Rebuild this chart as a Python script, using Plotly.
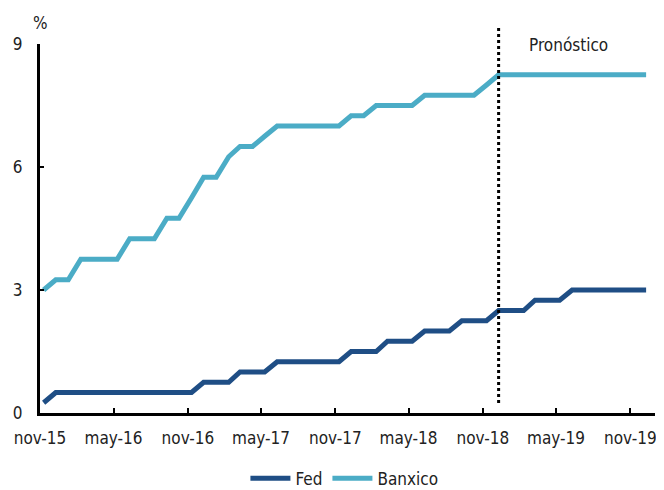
import plotly.graph_objects as go
import pandas as pd

# Monthly observations, nov-15 .. dec-19
months = pd.date_range("2015-11-01", "2019-12-01", freq="MS") + pd.Timedelta(days=9)
fed = [0.25] + [0.5]*12 + [0.75]*3 + [1.0]*3 + [1.25]*6 + [1.5]*3 + [1.75]*3 + [2.0]*3 + [2.25]*3 + [2.5]*3 + [2.75]*3 + [3.0]*7
banxico = ([3.0, 3.25, 3.25] + [3.75]*4 + [4.25]*3 + [4.75]*2 + [5.25, 5.75, 5.75, 6.25, 6.5, 6.5, 6.75]
           + [7.0]*6 + [7.25]*2 + [7.5]*4 + [7.75]*5 + [8.0] + [8.25]*13)

tick_dates = ["2015-11-01", "2016-05-01", "2016-11-01", "2017-05-01", "2017-11-01",
              "2018-05-01", "2018-11-01", "2019-05-01", "2019-11-01"]
tick_labels = ["nov-15", "may-16", "nov-16", "may-17", "nov-17",
               "may-18", "nov-18", "may-19", "nov-19"]
y_ticks = [0, 3, 6, 9]
forecast_start = "2018-12-10"

FONT = "DejaVu Sans Condensed, Liberation Sans Narrow, Arial Narrow, sans-serif"

fig = go.Figure()
fig.add_trace(go.Scatter(x=list(months), y=fed, name="Fed", mode="lines",
                         line=dict(color="#1F4E85", width=5)))
fig.add_trace(go.Scatter(x=list(months), y=banxico, name="Banxico", mode="lines",
                         line=dict(color="#4BACC6", width=5)))

fig.add_shape(type="line", xref="x", yref="paper", x0=forecast_start, x1=forecast_start,
              y0=0.027, y1=1.046, line=dict(color="black", width=3, dash="dot"))
fig.add_annotation(x=0.859, y=0.997, xref="paper", yref="paper", text="Pronóstico",
                   showarrow=False, font=dict(family=FONT, size=17, color="#222"),
                   xanchor="center", yanchor="middle")
fig.add_annotation(x=0.0, y=1.0, xref="paper", yref="paper", yshift=21, text="%",
                   showarrow=False, font=dict(family=FONT, size=17, color="#222"),
                   xanchor="center", yanchor="middle")

fig.update_layout(
    width=656, height=482,
    margin=dict(l=32, r=9, t=36, b=77, autoexpand=False),
    paper_bgcolor="white", plot_bgcolor="white",
    font=dict(family=FONT, size=17, color="#222"),
    showlegend=True,
    legend=dict(orientation="h", x=0.495, xanchor="center", y=-0.178, yanchor="middle",
                font=dict(family=FONT, size=17, color="#222"), itemwidth=40),
)
fig.update_xaxes(range=["2015-11-01", "2020-01-01"], tickvals=tick_dates, ticktext=tick_labels,
                 showgrid=False, zeroline=False, showline=True, linecolor="black", linewidth=3,
                 ticks="inside", ticklen=5, tickwidth=2, tickcolor="black",
                 ticklabelstandoff=8, automargin=False)
fig.update_yaxes(range=[0, 9], tickvals=y_ticks, showgrid=False, zeroline=False,
                 showline=True, linecolor="black", linewidth=3,
                 ticks="inside", ticklen=4, tickwidth=2, tickcolor="black",
                 ticklabelstandoff=11, automargin=False)

fig.write_html("out.html")
